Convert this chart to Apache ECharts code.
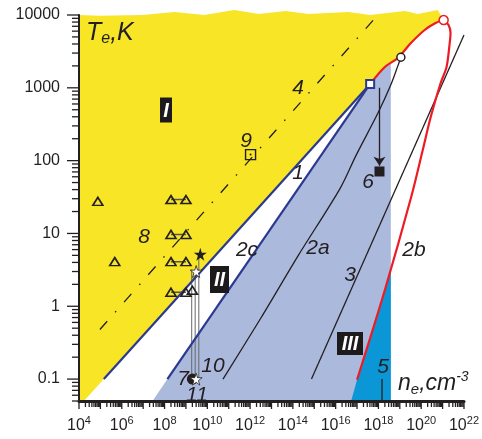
<!DOCTYPE html>
<html>
<head>
<meta charset="utf-8">
<script src="https://cdn.jsdelivr.net/npm/echarts@6/dist/echarts.min.js"></script>
<style>
html, body { margin: 0; padding: 0; background: #fff; }
#chart { width: 482px; height: 439px; }
</style>
</head>
<body>
<div id="chart"></div>
<script>
// axis ranges and tick labels
const xMin = 1e4, xMax = 1e22;
const yMin = 0.05, yMax = 10000;
const xLabelExps = [4, 6, 8, 10, 12, 14, 16, 18, 20, 22];
const yTickExps = [-1, 0, 1, 2, 3, 4];
const yTickLabels = ["0.1", "1", "10", "100", "1000", "10000"];

// boundary lines [ne, Te]
const line1 = [[1.45e5, 0.1], [4.1e17, 1130]];
const line2c = [[1.36e8, 0.1], [4.1e17, 1130]];
const redUpper = [[4.1e17, 1130], [2.0e18, 1930], [8.1e18, 2570], [3.3e19, 4120], [1.45e20, 6220], [4.7e20, 7760], [1.12e21, 8530]];
const redLower = [[1.12e21, 8530], [1.9e21, 7290], [2.35e21, 5660], [2.1e21, 3870], [1.53e21, 1930], [8.1e20, 1160], [2.8e20, 400], [1.18e20, 140], [3.3e19, 30.6], [2.0e18, 1.67], [1.0e17, 0.098]];
const line2a = [[1.12e19, 2630], [8.1e18, 2000], [3.8e18, 1100], [9.5e17, 450], [9.1e16, 119], [1.65e16, 42], [1.8e14, 5.0], [3.2e12, 0.69], [5.4e10, 0.1]];
const line3 = [[7.4e14, 0.1], [1e22, 5300]];
const line4 = [[9.5e4, 0.48], [7.7e17, 9390]];
const line5 = [[1.47e18, 0.05], [1.47e18, 0.1]];

// filled regions
const yellowTop = [[9.4e4, 9780], [9.4e6, 10000], [2.9e8, 10990], [7.1e9, 10000], [1.8e11, 11710], [2.6e12, 10320], [4.6e13, 11350], [5.4e14, 10320], [3.9e16, 10990], [4.1e17, 10000], [1.7e19, 11350], [6.9e19, 10320], [5.9e20, 11710]];
const yellowRegion = [[1e4, 0.05], [1e4, 10000]].concat(yellowTop, redUpper.slice().reverse(), [[1.45e5, 0.1], [1.7e4, 0.05]]);
const lavenderRegion = [[2.75e7, 0.05], [1.36e8, 0.1], [4.1e17, 1130], [2.0e18, 1930], [3.8e18, 2200], [3.8e18, 0.05]];
const blueRegion = [[3.8e18, 3.27], [2.0e18, 1.67], [1.0e17, 0.098], [5.3e16, 0.05], [3.8e18, 0.05]];

// markers
const triSingle = [[7.6e4, 27.6], [4.7e5, 4.1], [2.0e9, 1.66]];
const triPairs = [
  [[2.0e8, 29.2], [1.0e9, 29.2]],
  [[2.0e8, 9.7], [1.0e9, 9.7]],
  [[2.0e8, 4.1], [1.0e9, 4.1]],
  [[2.0e8, 1.56], [1.0e9, 1.56]],
];
const grayVerticals = [
  [[1.86e9, 3.2], [1.86e9, 0.1]],
  [[2.7e9, 3.2], [2.7e9, 0.1]],
  [[4.0e9, 5.2], [4.0e9, 0.1]],
];
const blackStar = [[4.7e9, 5.2]];
const whiteStars = [[3.0e9, 3.0], [3.0e9, 0.1]];
const blackDot = [[2.0e9, 0.1]];
const square9 = [[1.05e12, 121]];
const blueSquare = [[4.1e17, 1130]];
const blackCircle = [[1.12e19, 2630]];
const redCircle = [[1.12e21, 8530]];
const square6 = [[1.12e18, 71]];
const arrow6 = [[1.12e18, 1000], [1.12e18, 85]];

const FONT = '"Liberation Sans", Arial, sans-serif';
const INK = "#231f20";
const STAR = "path://M50,0 L61,35 L98,35 L68,57 L79,91 L50,70 L21,91 L32,57 L2,35 L39,35 Z";

function region(points, color) {
  return {
    type: "custom",
    coordinateSystem: "cartesian2d",
    clip: false,
    silent: true,
    z: 1,
    data: [[1e10, 1]],
    renderItem: (params, api) => ({
      type: "polygon",
      shape: { points: points.map((p) => api.coord(p)) },
      style: { fill: color },
    }),
  };
}

function line(data, color, width, extra) {
  return Object.assign({
    type: "line",
    data: data,
    showSymbol: false,
    symbol: "none",
    silent: true,
    z: 3,
    lineStyle: { color: color, width: width },
  }, extra || {});
}

function marks(data, symbol, size, fill, stroke, bw) {
  return {
    type: "scatter",
    data: data,
    symbol: symbol,
    symbolSize: size,
    silent: true,
    z: 5,
    itemStyle: { color: fill, borderColor: stroke, borderWidth: bw, opacity: 1 },
  };
}

// pair connectors with breaks
const pairData = [];
triPairs.forEach((p) => { pairData.push(p[0], p[1], "-"); });
const vertData = [];
grayVerticals.forEach((p) => { vertData.push(p[0], p[1], "-"); });

const ticks = {
  type: "custom",
  coordinateSystem: "cartesian2d",
  clip: false,
  silent: true,
  z: 7,
  data: [[1e10, 1]],
  renderItem: (params, api) => {
    const children = [];
    for (let d = 4; d <= 22; d++) {
      for (let k = 1; k <= 9; k++) {
        const v = k * Math.pow(10, d);
        if (v > xMax * 1.0001) break;
        const p = api.coord([v, yMin]);
        const len = k === 1 ? 8 : 6;
        children.push({ type: "line", shape: { x1: p[0], y1: p[1], x2: p[0], y2: p[1] + len }, style: { stroke: INK, lineWidth: 1.3 } });
      }
    }
    for (let d = -2; d <= 4; d++) {
      for (let k = 1; k <= 9; k++) {
        const v = k * Math.pow(10, d);
        if (v < yMin * 0.9999 || v > yMax * 1.0001) continue;
        const p = api.coord([xMin, v]);
        const len = k === 1 ? 12 : 7;
        children.push({ type: "line", shape: { x1: p[0] - len, y1: p[1], x2: p[0], y2: p[1] }, style: { stroke: INK, lineWidth: 1.3 } });
      }
    }
    return { type: "group", children: children };
  },
};

// annotations (pixel layout)
const numLabels = [
  ["1", 298, 173], ["2a", 318, 248], ["2b", 414, 250], ["2c", 247, 250], ["3", 350, 275],
  ["4", 298, 88], ["5", 383, 367], ["6", 368, 182], ["7", 183, 379], ["8", 144, 237],
  ["9", 246, 141], ["10", 213, 366], ["11", 197, 395],
];
const romanBoxes = [["I", 166, 110, 12, 25], ["II", 219.5, 279.5, 19, 27], ["III", 350, 343.5, 26, 23]];

const graphic = [];
numLabels.forEach((l) => {
  graphic.push({
    type: "text", x: l[1], y: l[2], z: 100,
    style: { text: l[0], fontFamily: FONT, fontStyle: "italic", fontSize: 21, fill: INK, align: "center", verticalAlign: "middle" },
  });
});
romanBoxes.forEach((b) => {
  graphic.push({
    type: "rect", z: 100,
    shape: { x: b[1] - b[3] / 2, y: b[2] - b[4] / 2, width: b[3], height: b[4] },
    style: { fill: "#1c1a1b" },
  });
  graphic.push({
    type: "text", x: b[1], y: b[2] + 1, z: 101,
    style: { text: b[0], fontFamily: FONT, fontStyle: "italic", fontWeight: "bold", fontSize: 20, fill: "#fff", align: "center", verticalAlign: "middle" },
  });
});
graphic.push({
  type: "text", x: 86, y: 33, z: 100,
  style: {
    text: "{a|T}{b|e}{a|,K}", align: "left", verticalAlign: "middle",
    rich: {
      a: { fontFamily: FONT, fontStyle: "italic", fontSize: 25, fill: INK, color: INK },
      b: { fontFamily: FONT, fontStyle: "italic", fontSize: 16, fill: INK, color: INK, padding: [12, 0, 0, 0] },
    },
  },
});
graphic.push({
  type: "text", x: 398, y: 384, z: 100,
  style: {
    text: "{a|n}{b|e}{a|,cm}{c|-3}", align: "left", verticalAlign: "middle",
    rich: {
      a: { fontFamily: FONT, fontStyle: "italic", fontSize: 23, fill: INK, color: INK },
      b: { fontFamily: FONT, fontStyle: "italic", fontSize: 15, fill: INK, color: INK, padding: [12, 0, 0, 0] },
      c: { fontFamily: FONT, fontStyle: "italic", fontSize: 14, fill: INK, color: INK, padding: [0, 0, 14, 0] },
    },
  },
});

const chart = echarts.init(document.getElementById("chart"), null, { renderer: "canvas" });
chart.setOption({
  animation: false,
  backgroundColor: "#fff",
  grid: { left: 79, right: 15, top: 15, bottom: 38 },
  xAxis: {
    type: "log",
    logBase: 10,
    min: xMin,
    max: xMax,
    interval: 2,
    z: 6,
    axisLine: { lineStyle: { color: INK, width: 3 } },
    axisTick: { show: false },
    splitLine: { show: false },
    axisLabel: {
      margin: 14,
      formatter: (v) => {
        const e = Math.round(Math.log10(v));
        return xLabelExps.indexOf(e) >= 0 ? "{b|10}{s|" + e + "}" : "";
      },
      rich: {
        b: { fontFamily: FONT, fontSize: 16, color: INK },
        s: { fontFamily: FONT, fontSize: 11, color: INK, padding: [0, 0, 11, 0] },
      },
    },
  },
  yAxis: {
    type: "log",
    logBase: 10,
    min: yMin,
    max: yMax,
    z: 6,
    axisLine: { lineStyle: { color: INK, width: 2 } },
    axisTick: { show: false },
    splitLine: { show: false },
    axisLabel: {
      margin: 19,
      fontFamily: FONT,
      fontSize: 16,
      color: INK,
      formatter: (v) => {
        const lg = Math.log10(v);
        const e = Math.round(lg);
        const i = yTickExps.indexOf(e);
        return i >= 0 && Math.abs(lg - e) < 1e-6 ? yTickLabels[i] : "";
      },
    },
  },
  graphic: graphic,
  series: [
    region(yellowRegion, "#f7e526"),
    region(lavenderRegion, "#abb9dd"),
    region(blueRegion, "#0b97d6"),
    line(line4, INK, 1.3, { lineStyle: { color: INK, width: 1.3, type: [11, 12, 1.5, 12] } }),
    line(line3, INK, 1.3),
    line(line5, INK, 1.3),
    line(line2a, INK, 1.3, { smooth: 0.3 }),
    line(vertData, "#666", 1, { connectNulls: false }),
    line(pairData, "#555", 1.5, { connectNulls: false }),
    line(line1, "#2b3990", 2.2),
    line(line2c, "#2b3990", 2.2),
    line(redUpper, "#ed1c24", 2.2, { smooth: 0.3 }),
    line(redLower, "#ed1c24", 2.2, { smooth: 0.3 }),
    {
      type: "lines",
      coordinateSystem: "cartesian2d",
      silent: true,
      z: 4,
      symbol: ["none", "arrow"],
      symbolSize: 9,
      lineStyle: { color: INK, width: 1.3, opacity: 1 },
      data: [{ coords: arrow6 }],
    },
    marks(triSingle, "triangle", [10, 8], "rgba(0,0,0,0)", INK, 1.6),
    marks(triPairs.flat(), "triangle", [10, 8], "rgba(0,0,0,0)", INK, 1.6),
    marks(square9, "rect", 10, "rgba(0,0,0,0)", INK, 1.4),
    marks(square9, "circle", 2, INK, INK, 0),
    marks(blackDot, "circle", 11, INK, INK, 0),
    marks(whiteStars, STAR, 12, "#fff", INK, 0.8),
    marks(blackStar, STAR, 13, INK, INK, 0),
    marks(square6, "rect", 10, INK, INK, 0),
    marks(blueSquare, "rect", 8, "#fff", "#2b3990", 2),
    marks(blackCircle, "circle", 8, "#fff", INK, 1.5),
    marks(redCircle, "circle", 9, "#fff", "#ed1c24", 1.5),
    ticks,
  ],
});
</script>
</body>
</html>
